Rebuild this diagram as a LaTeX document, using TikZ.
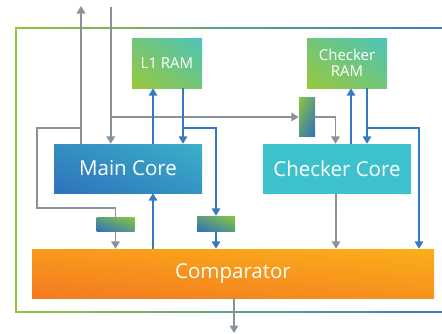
\documentclass[tikz,border=0pt]{standalone}
\usepackage{fontspec}
\setmainfont{Open Sans}
\usetikzlibrary{arrows.meta,shadings}
\definecolor{garr}{HTML}{87929A}
\definecolor{barr}{HTML}{3479C1}
\definecolor{fgreen}{HTML}{8DC63F}
\definecolor{fcyan}{HTML}{3FC0CC}
\definecolor{fblue}{HTML}{3A7CC6}
\definecolor{mcblue}{HTML}{2E72BB}
\definecolor{mccyan}{HTML}{3AB0CA}
\definecolor{ramgreen}{HTML}{98C83C}
\definecolor{ramteal}{HTML}{4CC4B9}
\definecolor{cccol}{HTML}{3DC1CC}
\definecolor{orA}{HTML}{F37A20}
\definecolor{orB}{HTML}{FBAE1A}
\begin{document}
\begin{tikzpicture}[x=1pt,y=-1pt,
  ga/.style={draw=garr, line width=1.6pt},
  ba/.style={draw=barr, line width=1.6pt},
  tip/.style={-{Triangle[width=8.5pt,length=7.5pt]}},
  blk/.style={inner sep=0pt, text=white, align=center},
  core/.style={blk, shade, lower left=mcblue, upper right=mccyan,
     upper left=mcblue!55!mccyan, lower right=mcblue!45!mccyan,
     minimum width=148pt, minimum height=49pt, font=\fontsize{20.5}{22}\selectfont},
  ram/.style={blk, shade, lower left=ramgreen, upper right=ramteal,
     upper left=ramgreen!50!ramteal, lower right=ramgreen!50!ramteal,
     minimum height=50pt, font=\fontsize{15}{16}\selectfont},
  delayh/.style={blk, shade, lower left=mcblue, upper right=fgreen,
     upper left=mcblue!50!fgreen, lower right=mcblue!50!fgreen},
]
\useasboundingbox (0,0) rectangle (442,333);
% frame
\shade[left color=fgreen, middle color=fcyan, right color=fblue] (15.2,27.2) rectangle (442,28.8);
\shade[left color=fgreen, middle color=fcyan, right color=fblue] (15.2,311.2) rectangle (442,312.8);
\fill[fgreen] (15.2,27.2) rectangle (16.8,312.8);
% blocks
\node[core] (MC) at (128,168.5) {Main Core};
\node[blk, fill=cccol, minimum width=148pt, minimum height=50pt, font=\fontsize{20.5}{22}\selectfont] (CC) at (337,169) {Checker Core};
\node[ram, minimum width=70pt] (L1) at (167,63) {L1 RAM};
\node[ram, minimum width=80pt] (CR) at (347,63) {Checker\\RAM};
\node[blk, shade, lower left=orA, upper right=orB, upper left=orA!40!orB, lower right=orA!55!orB,
  minimum width=402pt, minimum height=49pt, font=\fontsize{20.5}{22}\selectfont] (CMP) at (233,273.5) {Comparator};
\node[delayh, minimum width=38pt, minimum height=14pt] (D1) at (115.5,224) {};
\node[delayh, minimum width=38pt, minimum height=15pt] (D2) at (216,223.5) {};
\node[blk, shade, upper left=fgreen, lower right=mcblue, upper right=fgreen!50!mcblue, lower left=fgreen!40!mcblue,
  minimum width=16pt, minimum height=39pt] (D3) at (307,116.5) {};
% coordinates
\coordinate (upT) at (81,6);
\coordinate (inT) at (110.7,7);
\coordinate (j1) at (81,128);
\coordinate (l1) at (37,128);
\coordinate (l2) at (37,208);
\coordinate (l3) at (115.5,208);
\coordinate (j2) at (110.7,117);
\coordinate (r1) at (335.5,117);
\coordinate (bL1u) at (153,0);
\coordinate (bL1d) at (183,128);
\coordinate (bL1r) at (216,128);
\coordinate (bCRu) at (351,0);
\coordinate (bCRd) at (367,128);
\coordinate (bCRr) at (419,128);
\coordinate (gCC) at (336,0);
\coordinate (outB) at (234,333);
% gray connectors
\draw[ga, tip] (upT |- MC.north) -- (upT);
\draw[ga] (j1) -- (l1) -- (l2) -- (l3) -- (D1.north);
\draw[ga, tip] (D1.south) -- (D1.south |- CMP.north);
\draw[ga, tip] (inT) -- (inT |- MC.north);
\draw[ga, tip] (j2) -- (D3.west |- j2);
\draw[ga, tip] (D3.east |- r1) -- (r1) -- (r1 |- CC.north);
\draw[ga, tip] (gCC |- CC.south) -- (gCC |- CMP.north);
\draw[ga, tip] (CMP.south -| outB) -- (outB);
% blue connectors
\draw[ba, tip] (bL1u |- MC.north) -- (bL1u |- L1.south);
\draw[ba, tip] (bL1d |- L1.south) -- (bL1d |- MC.north);
\draw[ba, tip] (bL1d) -- (bL1r) -- (D2.north);
\draw[ba, tip] (D2.south) -- (D2.south |- CMP.north);
\draw[ba, tip] (bL1u |- CMP.north) -- (bL1u |- MC.south);
\draw[ba, tip] (bCRu |- CC.north) -- (bCRu |- CR.south);
\draw[ba, tip] (bCRd |- CR.south) -- (bCRd |- CC.north);
\draw[ba, tip] (bCRd) -- (bCRr) -- (bCRr |- CMP.north);
\end{tikzpicture}
\end{document}
